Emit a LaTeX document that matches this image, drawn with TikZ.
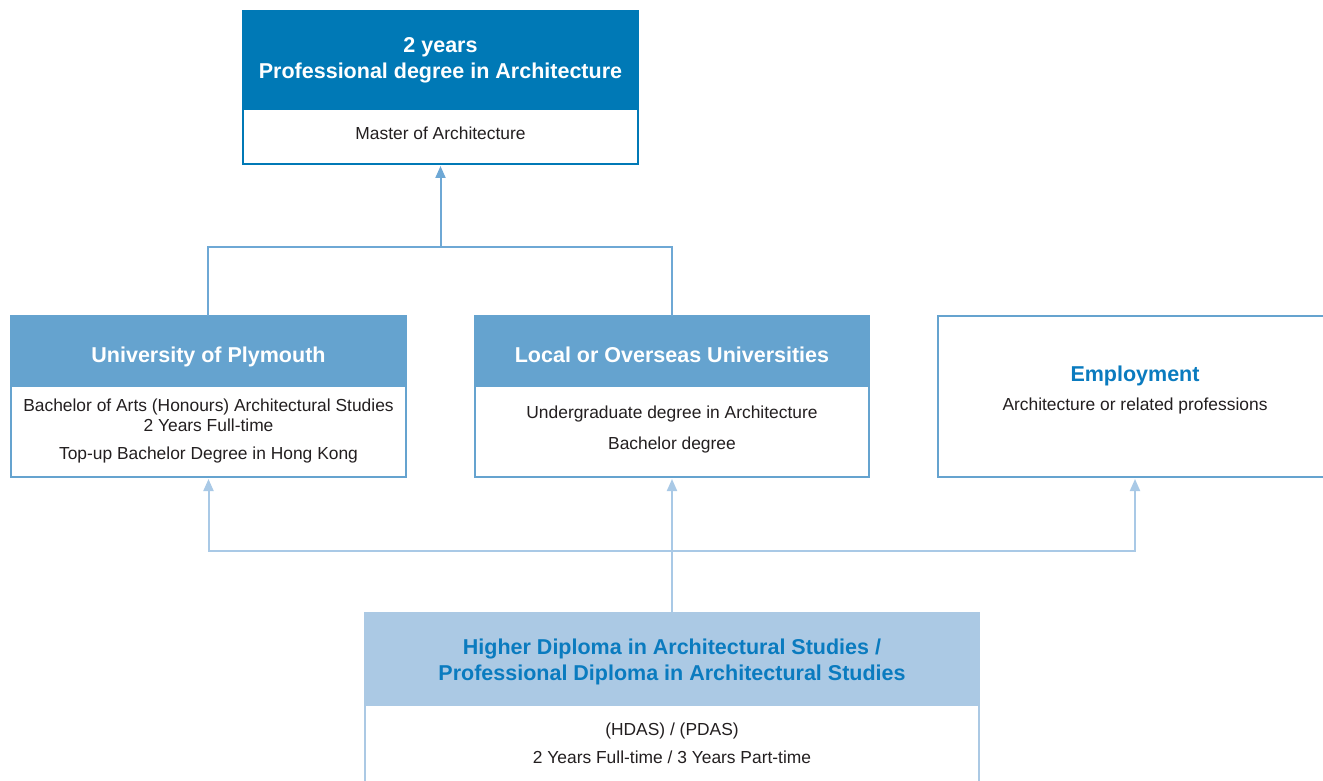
\documentclass[tikz,border=0pt]{standalone}
\usepackage{fontspec}
\setmainfont{Liberation Sans}
\usetikzlibrary{arrows.meta}
\definecolor{dkblue}{HTML}{0079B6}
\definecolor{mdblue}{HTML}{65A3CF}
\definecolor{ltblue}{HTML}{ABC9E4}
\definecolor{lineA}{HTML}{6EA8D5}
\definecolor{lineB}{HTML}{A9C9E6}
\definecolor{txt}{HTML}{231F20}
\definecolor{hdtxt}{HTML}{0A7BBF}
\tikzset{
  hbox/.style={anchor=north west, inner sep=0pt, outer sep=0pt, draw=none},
  bodybox/.style={anchor=north west, inner sep=0pt, outer sep=0pt, line width=2pt, fill=white},
  htext/.style={anchor=base, inner sep=0pt, font=\fontsize{21.5}{25}\selectfont\bfseries},
  btext/.style={anchor=base, inner sep=0pt, font=\fontsize{17.4}{21}\selectfont, text=txt},
  arrA/.style={draw=lineA, line width=2pt, -{Triangle[length=12pt,width=10pt]}, shorten >=2pt},
  arrB/.style={draw=lineB, line width=2pt, -{Triangle[length=12pt,width=10pt]}, shorten >=2pt},
  linA/.style={draw=lineA, line width=2pt},
  linB/.style={draw=lineB, line width=2pt}
}
\begin{document}
\begin{tikzpicture}[x=1pt,y=-1pt]
\useasboundingbox (0,0) rectangle (1323,781);
% top box
\node[bodybox, draw=dkblue, minimum width=395pt, minimum height=153pt] (topbody) at (243,11) {};
\node[hbox, fill=dkblue, minimum width=396pt, minimum height=100pt] (tophead) at (242,10) {};
\node[htext, text=white] (t1) at (440.5,53) {2 years};
\node[htext, text=white] (t2) at (440.5,79) {Professional degree in Architecture};
\node[btext] (t3) at (440.5,140) {Master of Architecture};
% Plymouth
\node[bodybox, draw=mdblue, minimum width=395pt, minimum height=161pt] (plybody) at (11,316) {};
\node[hbox, fill=mdblue, minimum width=396pt, minimum height=71pt] (plyhead) at (10,315.5) {};
\node[htext, text=white] (p1) at (208.5,362) {University of Plymouth};
\node[btext] (p2) at (208.5,411) {Bachelor of Arts (Honours) Architectural Studies};
\node[btext] (p3) at (208.5,431.5) {2 Years Full-time};
\node[btext] (p4) at (208.5,459) {Top-up Bachelor Degree in Hong Kong};
% Local
\node[bodybox, draw=mdblue, minimum width=394pt, minimum height=161pt] (locbody) at (475,316) {};
\node[hbox, fill=mdblue, minimum width=395pt, minimum height=71pt] (lochead) at (474.5,315.5) {};
\node[htext, text=white] (l1) at (672,362) {Local or Overseas Universities};
\node[btext] (l2) at (672,418) {Undergraduate degree in Architecture};
\node[btext] (l3) at (672,449) {Bachelor degree};
% Employment
\node[bodybox, draw=mdblue, minimum width=394pt, minimum height=161pt] (empbox) at (938,316) {};
\node[htext, text=hdtxt] (e1) at (1135,381) {Employment};
\node[btext] (e2) at (1135,410) {Architecture or related professions};
% Bottom
\node[bodybox, draw=ltblue, minimum width=614pt, minimum height=200pt] (botbody) at (365,613) {};
\node[hbox, fill=ltblue, minimum width=615pt, minimum height=93pt] (bothead) at (364.5,612.5) {};
\node[htext, text=hdtxt] (b1) at (672,654) {Higher Diploma in Architectural Studies /};
\node[htext, text=hdtxt] (b2) at (672,680) {Professional Diploma in Architectural Studies};
\node[btext] (b3) at (672,735) {(HDAS) / (PDAS)};
\node[btext] (b4) at (672,763) {2 Years Full-time / 3 Years Part-time};
% connectors
\coordinate (hub) at (440.5,247);
\coordinate (lowhub) at (672,551);
\draw[linA] (plyhead.north) |- (hub) -| (lochead.north);
\draw[arrA] (hub) -- (topbody.south);
\draw[linB] (bothead.north) -- (lowhub);
\draw[arrB] (lowhub) -- (locbody.south);
\draw[arrB] (lowhub) -| (plybody.south);
\draw[arrB] (lowhub) -| (empbox.south);
\end{tikzpicture}
\end{document}
